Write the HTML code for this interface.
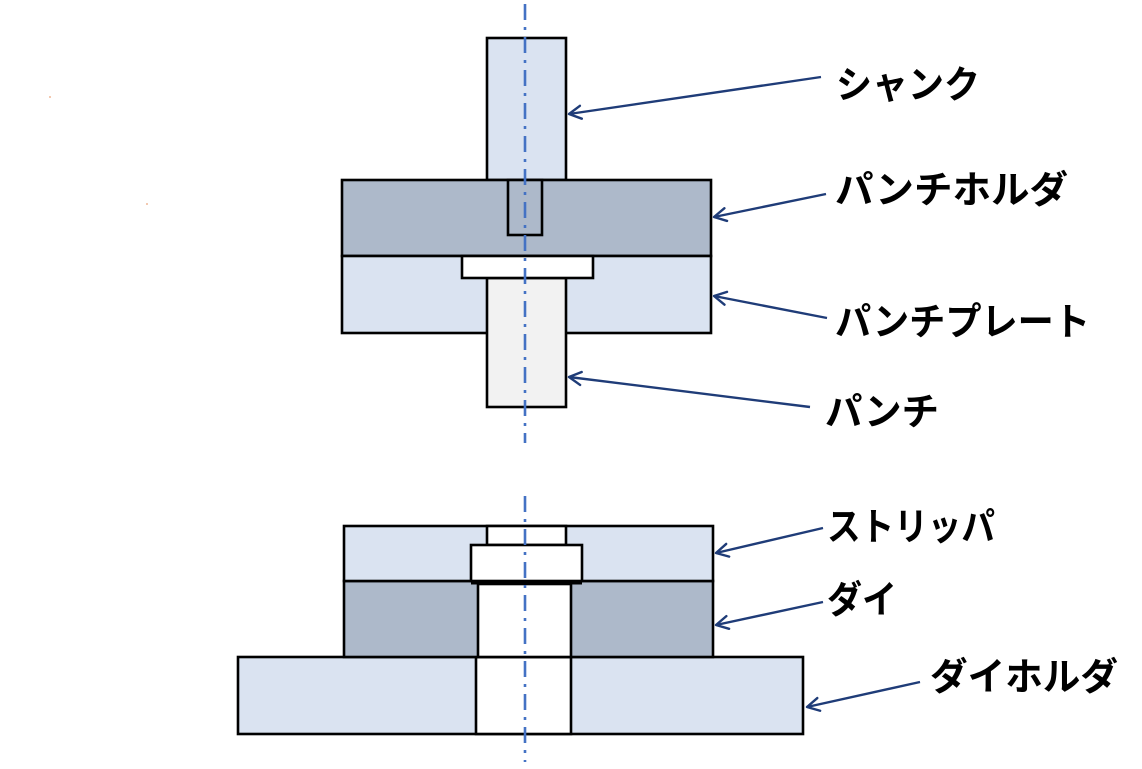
<!DOCTYPE html>
<html>
<head>
<meta charset="utf-8">
<style>
html,body{margin:0;padding:0;background:#fff;}
svg{display:block;}
text{font-family:"Liberation Sans","Noto Sans CJK JP",sans-serif;font-size:38px;font-weight:700;fill:#000;}
</style>
</head>
<body>
<svg width="1142" height="769" viewBox="0 0 1142 769" xmlns="http://www.w3.org/2000/svg">
  <defs>
    <marker id="ah" markerWidth="16" markerHeight="16" refX="14" refY="8" orient="auto" markerUnits="userSpaceOnUse">
      <path d="M2,1.5 L14,8 L2,14.5" fill="none" stroke="#1F3C78" stroke-width="2.4" stroke-linecap="round" stroke-linejoin="round"/>
    </marker>
  </defs>

  <!-- faint marks -->
  <rect x="49" y="96" width="2" height="2" fill="#f3c9b0"/>
  <rect x="146" y="203" width="2" height="2" fill="#f3c9b0"/>

  <g stroke="#000" stroke-width="2.6">
    <!-- Upper assembly -->
    <rect x="487" y="38" width="79" height="142" fill="#DAE3F1"/>
    <rect x="342" y="180" width="369" height="76" fill="#ADB9CA"/>
    <rect x="508" y="180" width="34" height="55" fill="#ADB9CA"/>
    <rect x="342" y="256" width="369" height="77" fill="#DAE3F1"/>
    <rect x="487" y="278" width="79" height="129" fill="#F2F2F2"/>
    <rect x="462" y="256" width="131" height="22" fill="#FFFFFF"/>

    <!-- Lower assembly -->
    <rect x="238" y="657" width="565" height="77" fill="#DAE3F1"/>
    <rect x="476" y="657" width="95" height="77" fill="#FFFFFF"/>
    <rect x="344" y="581" width="369" height="76" fill="#ADB9CA"/>
    <rect x="478" y="584" width="93" height="73" fill="#FFFFFF"/>
    <rect x="344" y="526" width="369" height="55" fill="#DAE3F1"/>
    <rect x="487" y="526" width="79" height="19" fill="#FFFFFF"/>
    <rect x="471" y="545" width="111" height="36" fill="#FFFFFF"/>
    <line x1="471" y1="582.5" x2="582" y2="582.5" stroke-width="4"/>
  </g>

  <!-- Center lines -->
  <g stroke="#4472C4" stroke-width="2.6" fill="none" stroke-dasharray="16 7 3 7">
    <line x1="525" y1="4" x2="525" y2="443"/>
    <line x1="525" y1="496" x2="525" y2="762"/>
  </g>

  <!-- Arrows -->
  <g stroke="#1F3C78" stroke-width="2.4" fill="none" marker-end="url(#ah)">
    <line x1="821" y1="77" x2="569" y2="114"/>
    <line x1="826" y1="194" x2="714" y2="217"/>
    <line x1="827" y1="318" x2="714" y2="296"/>
    <line x1="810" y1="407" x2="569" y2="377"/>
    <line x1="823" y1="528" x2="716" y2="553"/>
    <line x1="823" y1="602" x2="716" y2="625"/>
    <line x1="920" y1="682" x2="807" y2="707"/>
  </g>

  <!-- Labels -->
  <text x="836" y="98" textLength="144" lengthAdjust="spacingAndGlyphs">シャンク</text>
  <text x="835" y="203" textLength="233" lengthAdjust="spacingAndGlyphs">パンチホルダ</text>
  <text x="835" y="335" textLength="255" lengthAdjust="spacingAndGlyphs">パンチプレート</text>
  <text x="825" y="425" textLength="114" lengthAdjust="spacingAndGlyphs">パンチ</text>
  <text x="827" y="540" textLength="168" lengthAdjust="spacingAndGlyphs">ストリッパ</text>
  <text x="827" y="613" textLength="70" lengthAdjust="spacingAndGlyphs">ダイ</text>
  <text x="930" y="690" textLength="188" lengthAdjust="spacingAndGlyphs">ダイホルダ</text>
</svg>
</body>
</html>
